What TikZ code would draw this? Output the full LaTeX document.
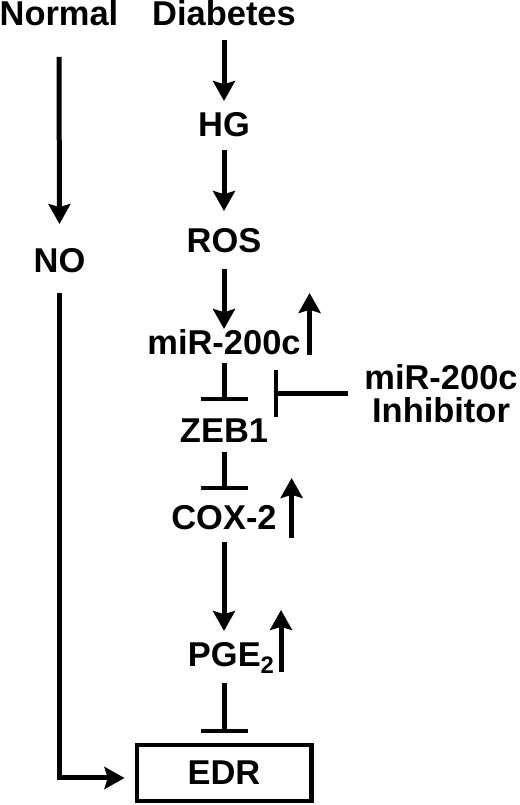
\documentclass[tikz,border=0pt]{standalone}
\usepackage{fontspec}
\setmainfont{Liberation Sans}
\usetikzlibrary{arrows.meta,calc}

\begin{document}
\begin{tikzpicture}[
    lbl/.style={inner sep=0pt, outer sep=0pt, text height=0.65cm, text depth=0pt, anchor=base},
    act/.style={line width=0.125cm, -{Stealth[length=0.5cm, width=0.55cm, inset=0.08cm]}},
    inh/.style={line width=0.125cm, -{Bar[width=1.175cm, line width=0.11cm]}},
  ]
    \useasboundingbox (0.000000,0.000000) rectangle (13.000000,20.125000);
    {\fontsize{24.5}{23.5}\selectfont\bfseries

    % Marking the two starting states
    \node [lbl] (normal) at (1.475000,19.475000) {Normal};
    \node [lbl] (diabetes) at (5.600000,19.475000) {Diabetes};

    % Marking the diabetes chain
    \node [lbl] (hg) at (5.600000,16.700000) {HG};
    \node [lbl] (ros) at (5.600000,13.800000) {ROS};
    \node [lbl] (mir) at (5.600000,11.250000) {miR-200c};
    \node [lbl] (zeb) at (5.600000,9.050000) {ZEB1};
    \node [lbl] (cox) at (5.600000,6.875000) {COX-2};
    \node [lbl] (pge) at (5.775000,3.450000) {PGE\raisebox{-4.3pt}{\fontsize{17}{17}\selectfont 2}};

    % Marking NO
    \node [lbl] (no) at (1.487500,13.300000) {NO};

    % Marking EDR by box
    \node [draw, line width=0.11cm, minimum width=4.365cm, minimum height=1.39cm, inner sep=0pt] (edr) at (5.600000,0.800000) {EDR};

    % Marking the inhibitor
    \node [align=center, inner sep=0pt] (inhibitor) at (11.025000,10.275000) {miR-200c\\Inhibitor};
    \coordinate (target) at (6.850000,10.275000);

    % Drawing the diabetes chain
    \draw [act] ([yshift=-0.35cm]diabetes.south) -- ([yshift=0.25cm]hg.north);
    \draw [act] ([yshift=-0.325cm]hg.south) -- ([yshift=0.4cm]ros.north);
    \draw [act] ([yshift=-0.4cm]ros.south) -- (mir.north);
    \draw [inh] ([yshift=-0.2cm]mir.south) -- ([yshift=0.4cm]zeb.north);
    \draw [inh] ([yshift=-0.225cm]zeb.south) -- ([yshift=0.35cm]cox.north);
    \draw [act] ([yshift=-0.3cm]cox.south) -- ($(cox.south |- pge.north)+(0,0.25)$);
    \draw [inh] ($(edr.north |- pge.south)+(0,-0.4)$) -- ([yshift=0.25cm]edr.north);

    % Drawing the normal branch
    \draw [act] ([yshift=-0.775cm]normal.south) -- ([yshift=0.575cm]no.north);
    \draw [act] ([yshift=-0.5cm]no.south) |- ([xshift=-0.25cm,yshift=-0.125cm]edr.west);

    % Drawing the inhibitor bar
    \draw [inh] ([xshift=-0.4cm]inhibitor.west) -- (target);

    % Drawing the up arrows
    \draw [act] ([xshift=0.225cm]mir.south east) -- ([xshift=0.225cm,yshift=0.9cm]mir.north east);
    \draw [act] ([xshift=0.375cm,yshift=-0.2cm]cox.south east) -- ([xshift=0.375cm,yshift=0.65cm]cox.north east);
    \draw [act] ([xshift=0.175cm,yshift=-0.125cm]pge.south east) -- ([xshift=0.175cm,yshift=0.775cm]pge.north east);
    }
\end{tikzpicture}
\end{document}
